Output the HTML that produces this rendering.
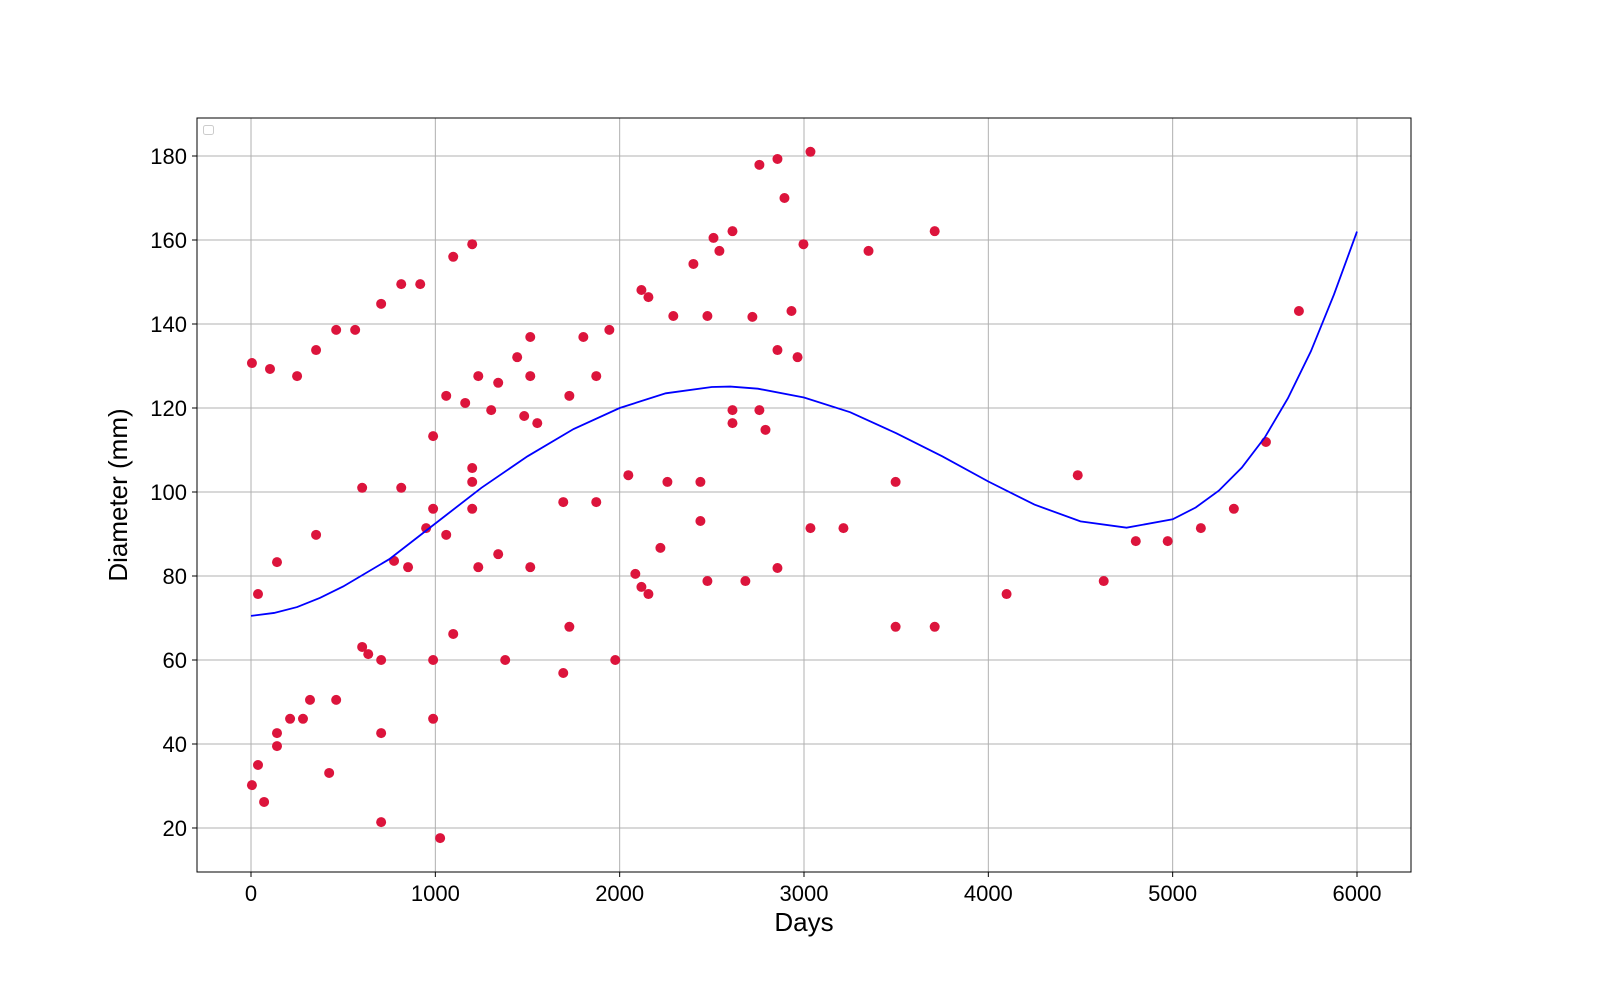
<!DOCTYPE html>
<html><head><meta charset="utf-8"><style>
html,body{margin:0;padding:0;background:#fff;}
svg{display:block;font-family:"Liberation Sans","DejaVu Sans",sans-serif;}
</style></head><body>
<svg id="chart" width="1600" height="1000" viewBox="0 0 1600 1000"></svg>
<script>
const xTicks=[0,1000,2000,3000,4000,5000,6000];
const yTicks=[20,40,60,80,100,120,140,160,180];
const pointDays=[5,103,250,353,462,565,706,815,918,1097,1200,38,141,353,603,815,776,852,950,988,988,1059,1059,1162,1200,1200,1200,1233,1233,1303,1341,1341,1444,1482,1515,1515,1553,1515,1379,1694,1694,1727,1727,1803,1873,1873,1944,1976,2047,2085,2118,2118,2156,2156,2221,2259,2291,2400,2438,2438,2476,2476,2509,2541,2612,2612,2612,2682,2720,2758,2758,2791,2856,2856,2856,2894,2932,2965,2997,3035,3035,3214,3350,3497,3497,3709,3709,4099,4485,4626,4800,4973,5153,5332,5506,5685,5,38,71,141,141,212,282,320,424,462,603,636,706,706,706,988,988,1026,1097];
const pointDiam=[130.7,129.3,127.6,133.8,138.6,138.6,144.8,149.5,149.5,156,159,75.7,83.3,89.8,101,101,83.6,82.1,91.4,96,113.3,89.8,122.9,121.2,105.7,102.4,96,127.6,82.1,119.5,126,85.2,132.1,118.1,136.9,127.6,116.4,82.1,60,97.6,56.9,122.9,67.9,136.9,127.6,97.6,138.6,60,104,80.5,148.1,77.4,146.4,75.7,86.7,102.4,141.9,154.3,102.4,93.1,141.9,78.8,160.5,157.4,162.1,119.5,116.4,78.8,141.7,177.9,119.5,114.8,179.3,133.8,81.9,170,143.1,132.1,159,181,91.4,91.4,157.4,102.4,67.9,162.1,67.9,75.7,104,78.8,88.3,88.3,91.4,96,111.9,143.1,30.2,35,26.2,42.6,39.5,46,46,50.5,33.1,50.5,63.1,61.4,60,42.6,21.4,60,46,17.6,66.2];
const fitDays=[0,125,250,375,500,750,1000,1250,1500,1750,2000,2250,2500,2600,2750,3000,3250,3500,3750,4000,4250,4500,4750,5000,5125,5250,5375,5500,5625,5750,5875,6000];
const fitDiam=[70.5,71.2,72.6,74.8,77.5,84,92.5,101,108.5,115,120,123.5,125,125.1,124.6,122.5,119,114,108.5,102.5,97,93,91.5,93.5,96.3,100.3,105.8,113,122.3,133.5,147,162];

const L=197,R=1411,T=118,B=872;
const xMin=-293,xMax=6293,yMin=9.52,yMax=189.05;
const sx=v=>L+(v-xMin)/(xMax-xMin)*(R-L);
const sy=v=>B-(v-yMin)/(yMax-yMin)*(B-T);
const NS='http://www.w3.org/2000/svg';
const svg=document.getElementById('chart');
function mk(tag,attrs,parent){const e=document.createElementNS(NS,tag);for(const k in attrs)e.setAttribute(k,attrs[k]);(parent||svg).appendChild(e);return e;}

const grid=mk('g',{});


xTicks.forEach(t=>{
  const l=mk('line',{x1:sx(t),x2:sx(t),y1:T,y2:B,stroke:'#b0b0b0','stroke-width':1},grid);
  
  
  const k=mk('line',{x1:sx(t),x2:sx(t),y1:B,y2:B+5,stroke:'#000','stroke-width':1});
  
  
  const tx=mk('text',{x:sx(t),y:B+29,'text-anchor':'middle','font-size':22,fill:'#000'});
  tx.textContent=t;
  
  
});
yTicks.forEach(t=>{
  const l=mk('line',{x1:L,x2:R,y1:sy(t),y2:sy(t),stroke:'#b0b0b0','stroke-width':1},grid);
  
  
  const k=mk('line',{x1:L-5,x2:L,y1:sy(t),y2:sy(t),stroke:'#000','stroke-width':1});
  
  
  const tx=mk('text',{x:L-10,y:sy(t)+8,'text-anchor':'end','font-size':22,fill:'#000'});
  tx.textContent=t;
  
  
});

const pts=mk('g',{});


pointDays.forEach((d,i)=>{
  const c=mk('circle',{cx:sx(d),cy:sy(pointDiam[i]),r:5,fill:'#dc143c'},pts);
  
  
});

const path=mk('polyline',{points:fitDays.map((d,i)=>sx(d)+','+sy(fitDiam[i])).join(' '),fill:'none',stroke:'#0000ff','stroke-width':1.8});



const frame=mk('rect',{x:L,y:T,width:R-L,height:B-T,fill:'none',stroke:'#000','stroke-width':1});



const leg=mk('rect',{x:203.5,y:125.5,width:10,height:9,rx:2,fill:'#fff',stroke:'#ccc','stroke-width':1});



const xt=mk('text',{x:(L+R)/2,y:931,'text-anchor':'middle','font-size':26,fill:'#000'});
xt.textContent='Days';


const yt=mk('text',{x:0,y:0,'text-anchor':'middle','font-size':26,fill:'#000',transform:'translate(127,'+((T+B)/2)+') rotate(-90)'});
yt.textContent='Diameter (mm)';


</script>
</body></html>
